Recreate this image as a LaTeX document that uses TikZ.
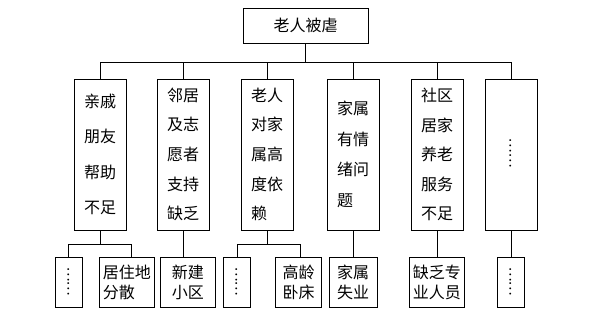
\documentclass[tikz,border=0pt]{standalone}
\usepackage{fontspec}
\newfontfamily\cjk{Noto Sans CJK SC}
\begin{document}
\begin{tikzpicture}[x=1pt,y=-1pt,
  line width=0.8pt,
  topbox/.style={draw, inner sep=0pt, minimum width=125pt, minimum height=35pt,
    font=\cjk\fontsize{16}{18}\selectfont},
  lbox/.style={draw, inner sep=0pt, minimum width=52pt, minimum height=151pt,
    align=left, font=\cjk\fontsize{16}{#1}\selectfont},
  sbox/.style={draw, inner sep=0pt, minimum height=50pt, minimum width=#1,
    font=\cjk\fontsize{16}{20}\selectfont},
  dotsv/.style={rotate=90, inner sep=0pt, font=\cjk\fontsize{14}{14}\selectfont}]
\useasboundingbox (0,0) rectangle (598,319);
% top
\node[topbox] (top) at (305.5,25.5) {老人被虐};
% level 2
\node[lbox=35.5] (b1) at (100,154.5) {亲戚\\朋友\\帮助\\不足};
\node[lbox=29.6] (b2) at (183,154.5) {邻居\\及志\\愿者\\支持\\缺乏};
\node[lbox=29.6] (b3) at (267,154.5) {老人\\对家\\属高\\度依\\赖};
\node[lbox=30.5] (b4) at (353,154.5) {家属\\有情\\绪问\\题};
\node[lbox=29.6] (b5) at (437,154.5) {社区\\居家\\养老\\服务\\不足};
\node[lbox=20] (b6) at (511.5,154.5) {};
\node[dotsv] (d6) at (511,153.5) {……};
% level 3
\node[sbox=27pt] (s1a) at (68.8,282) {};
\node[dotsv] (d1) at (s1a.center) {……};
\node[sbox=55pt, align=left] (s1b) at (126.8,282) {居住地\\分散};
\node[sbox=55pt, align=center] (s2) at (187.8,282) {新建\\小区};
\node[sbox=27pt] (s3a) at (237,282) {};
\node[dotsv] (d3) at (s3a.center) {……};
\node[sbox=46pt, align=center] (s3b) at (298.7,282) {高龄\\卧床};
\node[sbox=48pt, align=center] (s4) at (353,282) {家属\\失业};
\node[sbox=55pt, align=left] (s5) at (436.8,282) {缺乏专\\业人员};
\node[sbox=27pt] (s6) at (511,282) {};
\node[dotsv] (d6b) at (s6.center) {……};
% connectors top
\coordinate (busy) at (0,62);
\draw (top.south) -- (top.south |- busy);
\draw (b1.north) -- (b1.north |- busy) -- (b6.north |- busy) -- (b6.north);
\foreach \b in {b2,b3,b4,b5} \draw (\b.north) -- (\b.north |- busy);
% connectors bottom
\coordinate (sby) at (0,244);
\draw (b1.south) -- (b1.south |- sby);
\draw (s1a.north) -- (s1a.north |- sby) -- ([xshift=5pt]s1b.north |- sby) -- ([xshift=5pt]s1b.north);
\draw (b2.south) -- (b2.south |- s2.north);
\draw (b3.south) -- (b3.south |- sby);
\draw (s3a.north) -- (s3a.north |- sby) -- ([xshift=2pt]s3b.north |- sby) -- ([xshift=2pt]s3b.north);
\draw (b4.south) -- (b4.south |- s4.north);
\draw (b5.south) -- (b5.south |- s5.north);
\draw (b6.south) -- (b6.south |- s6.north);
\end{tikzpicture}
\end{document}
